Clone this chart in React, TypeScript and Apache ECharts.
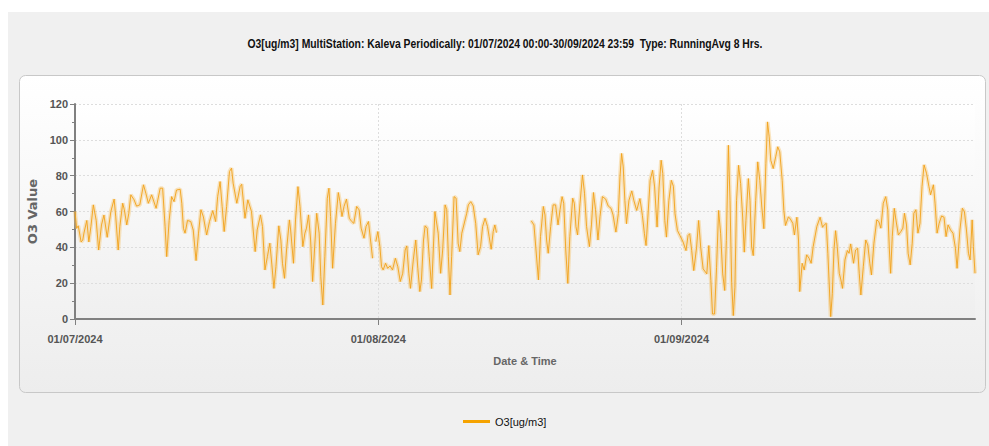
import React, { useEffect, useRef } from "react";
import * as echarts from "echarts";

const TITLE =
  "O3[ug/m3] MultiStation: Kaleva Periodically: 01/07/2024 00:00-30/09/2024 23:59  Type: RunningAvg 8 Hrs.";
const SERIES_NAME = "O3[ug/m3]";
const Y_NAME = "O3 Value";
const X_NAME = "Date & Time";
const TOTAL_HOURS = 2208; // 01/07/2024 00:00 .. 01/10/2024 00:00
const MONTH_TICKS = [0, 744, 1488];
const MONTH_LABELS = ["01/07/2024", "01/08/2024", "01/09/2024"];
const Y_MAX = 120;
const Y_STEP = 20;

// hours since 01/07/2024 00:00, and 8-h running average values (null = gap)
const HOURS = [
  0, 4, 8, 15, 19, 22, 29, 34, 39, 45, 52, 58, 65, 71, 79, 88, 96, 100, 106, 110,
  117, 121, 127, 132, 137, 145, 151, 159, 168, 174, 180, 188, 199, 209, 215, 221, 225, 231, 237, 243,
  249, 258, 262, 266, 270, 276, 284, 290, 297, 303, 309, 315, 323, 330, 338, 345, 350, 356, 361, 366,
  372, 379, 384, 388, 397, 405, 409, 417, 424, 433, 442, 447, 455, 460, 466, 472, 478, 483, 488, 493,
  500, 505, 509, 514, 519, 526, 529, 536, 541, 547, 552, 559, 564, 568, 573, 578, 583, 589, 593, 599,
  603, 608, 613, 619, 623, 627, 632, 639, 646, 650, 655, 660, 666, 673, 679, 684, 691, 697, 702, 709,
  714, 720, 725, 730, 734, 738, 743, 748, 752, 756, 762, 767, 773, 779, 786, 792, 798, 804, 810, 814,
  819, 823, 830, 836, 841, 846, 850, 855, 859, 864, 869, 875, 883, 891, 897, 902, 908, 912, 916, 920,
  924, 930, 935, 940, 944, 949, 954, 961, 965, 971, 977, 983, 989, 995, 1000, 1006, 1012, 1016, 1021, 1026,
  1030, 1034, 1076, 1119, 1126, 1131, 1137, 1142, 1149, 1153, 1157, 1161, 1167, 1173, 1179, 1185, 1190, 1195, 1199, 1204,
  1209, 1214, 1221, 1225, 1229, 1233, 1239, 1245, 1250, 1255, 1262, 1267, 1272, 1277, 1283, 1288, 1294, 1302, 1308, 1315,
  1320, 1327, 1333, 1337, 1341, 1345, 1349, 1353, 1359, 1366, 1371, 1378, 1386, 1392, 1397, 1401, 1407, 1411, 1417, 1422,
  1428, 1433, 1438, 1442, 1447, 1451, 1457, 1463, 1468, 1472, 1478, 1484, 1492, 1499, 1504, 1508, 1513, 1518, 1525, 1530,
  1535, 1541, 1550, 1555, 1560, 1564, 1569, 1574, 1579, 1584, 1589, 1594, 1598, 1603, 1607, 1611, 1615, 1619, 1623, 1628,
  1633, 1638, 1642, 1646, 1652, 1656, 1660, 1664, 1670, 1675, 1680, 1685, 1690, 1695, 1699, 1703, 1707, 1713, 1719, 1724,
  1729, 1735, 1739, 1743, 1750, 1754, 1761, 1765, 1771, 1775, 1778, 1784, 1789, 1795, 1801, 1806, 1811, 1820, 1828, 1834,
  1838, 1843, 1847, 1851, 1854, 1858, 1862, 1866, 1870, 1875, 1879, 1883, 1889, 1895, 1899, 1903, 1910, 1915, 1920, 1924,
  1928, 1934, 1940, 1945, 1950, 1954, 1960, 1967, 1972, 1977, 1983, 1989, 1994, 1998, 2001, 2005, 2010, 2014, 2020, 2026,
  2031, 2035, 2040, 2044, 2049, 2054, 2058, 2063, 2068, 2073, 2078, 2083, 2089, 2095, 2099, 2106, 2110, 2115, 2120, 2126,
  2132, 2137, 2142, 2148, 2154, 2160, 2164, 2171, 2177, 2182, 2187, 2192, 2196, 2201, 2204, 2208,
];

const VALUES: (number | null)[] = [
  60, 50.6, 52, 43, 44, 48, 55, 43, 51.6, 63.7, 55, 38.5, 52.5, 58, 45.6, 60, 66.9, 57, 38.5, 51.6,
  64.6, 61, 52.5, 59, 69.3, 66.5, 63, 63.7, 74.9, 70, 64.6, 69.3, 61.8, 73, 73, 51.6, 34.8, 55, 68.3, 65.5,
  72, 72.4, 64.6, 50.6, 47.9, 55, 54.4, 49.7, 32.6, 47.9, 61, 57, 46.9, 54.4, 60.5, 54.4, 68.3, 76.7, 62.8, 48.8,
  62.8, 82.3, 84.2, 75.8, 64.6, 73.9, 75.2, 56.2, 66.5, 60, 37.6, 49.7, 58.1, 51.6, 27.4, 34.8, 42.3, 30.2, 17.1, 29.2,
  52, 44.1, 31.1, 22.7, 38.5, 55.3, 49.7, 31.1, 55.3, 73.9, 62.8, 40.4, 47.9, 50.7, 58.1, 44.1, 20.9, 44.1, 59, 47.9,
  23.6, 7.8, 34.8, 67.4, 73, 57.2, 28.3, 53.4, 70.6, 65.5, 57.2, 62.8, 66.9, 56.2, 54.4, 53.4, 62.8, 60.9, 50.7, 45.1,
  51.6, 54.4, 44.1, 33.9, null, 43.2, 48.8, 40.4, 29.2, 27.4, 31.1, 28.3, 29.6, 27.4, 33.9, 29.2, 20.9, 25.5, 38.5, 40.8,
  25.5, 17.1, 33, 44.1, 28.3, 15.3, 21.8, 44.1, 52, 50.7, 35, 17, 60, 47.9, 25.5, 38.5, 63.7, 61, 34.8, 13.4,
  34.8, 68.3, 67.4, 42.3, 37.6, 47.9, 52.5, 59, 63.7, 65.5, 63.1, 53.4, 35.8, 40.4, 51.6, 56.2, 51.6, 46, 38.9, 48.8,
  52.5, 48.2, null, 54.9, 52.5, 38.5, 21.8, 46, 62.8, 58.1, 44.1, 36.7, 51.6, 63.7, 63.7, 52.5, 61, 68.3, 64.6, 38.5,
  19.9, 46, 67.4, 64.6, 51.6, 46.9, 64.6, 80.4, 70.2, 51.6, 40.4, 52.5, 70.6, 61, 44.1, 57.2, 68.3, 66.9, 63.1, 61.8,
  58.1, 48.5, 58.8, 79.3, 92.4, 84.9, 66.2, 53.2, 66.2, 71.5, 66.2, 60.6, 67.2, 57.8, 47.6, 41, 62.5, 77.4, 83, 73.7,
  51.3, 73.7, 88.6, 81.2, 55, 45.7, 66.2, 77.4, 74.1, 58.8, 49.4, 46.6, 42.9, 38.2, 46.6, 47.6, 38.2, 27, 40.1, 55,
  40.1, 28, 25.2, 41, 21.5, 2.8, 2.8, 28.9, 60.6, 47.6, 25.2, 15.9, 43.8, 97, 66.2, 20.5, 1.9, 17.7, 66.2, 85.8,
  75.6, 56.9, 37.3, 55, 78.4, 66.2, 40.1, 35.4, 66.2, 87.7, 77.4, 62.5, 50.4, 86.8, 110, 101.7, 88.6, 84, 90.5, 96.1,
  93.3, 77.4, 60.6, 52.2, 56.9, 56.2, 53.4, 46.9, 56.8, 44.1, 15.3, 31.1, 27.4, 35.8, 33.9, 31.1, 40.4, 51.6, 56.8, 51.2,
  52.5, 53.4, 36.7, 16.2, 1.3, 14.3, 38.5, 49.3, 40.4, 25.5, 21.8, 17.1, 33, 38.2, 36.7, 41.9, 31.1, 38.5, 39.5, 25.5,
  13.4, 29.2, 44.1, 41.3, 31.1, 24.6, 42.3, 55.3, 54.4, 50.7, 64.6, 68.3, 60.9, 38.5, 25.5, 46, 61.8, 55.3, 46.9, 48.8,
  50.7, 59, 52.5, 36.7, 30.2, 42.3, 59, 61, 47.9, 53.4, 73.9, 86, 81.4, 73.9, 69.3, 74.9, 64.6, 47.9, 53.4, 57.5,
  56.8, 46, 52.5, 49.7, 47.9, 39.5, 28.3, 49.7, 61.8, 60, 49.7, 36.7, 33, 55.3, 40.4, 25.5,
];

const FONT = "'Liberation Sans',Arial,sans-serif";
const FONT_WIDE = "'DejaVu Sans',Verdana,sans-serif";

export default function App() {
  const ref = useRef<HTMLDivElement>(null);

  useEffect(() => {
    if (!ref.current) return;
    const chart = echarts.init(ref.current, undefined, { renderer: "svg" });
    const data = HOURS.map((h, i) => [h, VALUES[i] === null ? "-" : VALUES[i]]);

    const option: any = {
      animation: false,
      backgroundColor: "#ffffff",
      graphic: [
        {
          type: "rect",
          z: -20,
          silent: true,
          shape: { x: 8, y: 12, width: 981, height: 434 },
          style: { fill: "#f0f0f0" },
        },
        {
          type: "rect",
          z: -19,
          silent: true,
          shape: { x: 19.5, y: 75.5, width: 966, height: 317, r: 6 },
          style: {
            fill: new echarts.graphic.LinearGradient(0, 0, 0, 1, [
              { offset: 0, color: "#ffffff" },
              { offset: 1, color: "#ededed" },
            ]),
            stroke: "#c8c8c8",
            lineWidth: 1,
          },
        },
        {
          type: "text",
          z: 10,
          silent: true,
          x: 505,
          y: 44,
          scaleX: 0.865,
          style: {
            text: TITLE,
            fill: "#111111",
            font: `bold 12px ${FONT}`,
            align: "center",
            verticalAlign: "middle",
          },
        },
      ],
      grid: {
        left: 75,
        right: 14,
        top: 104,
        bottom: 127,
        show: true,
        borderWidth: 0,
        backgroundColor: new echarts.graphic.LinearGradient(0, 0, 0, 1, [
          { offset: 0, color: "#ffffff" },
          { offset: 1, color: "#efefef" },
        ]),
      },
      legend: {
        data: [SERIES_NAME],
        left: 458,
        top: 411,
        icon: "rect",
        itemWidth: 27,
        itemHeight: 3,
        itemGap: 10,
        textStyle: { fontFamily: FONT, fontSize: 11, color: "#111111" },
      },
      xAxis: {
        type: "value",
        min: 0,
        max: TOTAL_HOURS,
        interval: 744,
        name: X_NAME,
        nameLocation: "middle",
        nameGap: 36,
        nameTextStyle: { fontFamily: FONT, fontSize: 11, fontWeight: "bold", color: "#666666" },
        axisLine: { show: true, lineStyle: { color: "#808080", width: 2 } },
        axisTick: {
          show: true,
          length: 6,
          customValues: MONTH_TICKS,
          lineStyle: { color: "#808080", width: 1 },
        },
        axisLabel: {
          customValues: MONTH_TICKS,
          margin: 14,
          fontFamily: FONT,
          fontSize: 11,
          fontWeight: "bold",
          color: "#555555",
          formatter: (v: number) => {
            const i = MONTH_TICKS.indexOf(v);
            return i >= 0 ? MONTH_LABELS[i] : "";
          },
        },
        splitLine: {
          show: true,
          showMinLine: false,
          lineStyle: { color: "#dddddd", type: [2, 2], width: 1 },
        },
      },
      yAxis: {
        type: "value",
        min: 0,
        max: Y_MAX,
        interval: Y_STEP,
        name: Y_NAME,
        nameLocation: "middle",
        nameGap: 28,
        nameRotate: 90,
        nameTextStyle: { fontFamily: FONT_WIDE, fontSize: 13, fontWeight: "bold", color: "#666666" },
        axisLine: { show: true, lineStyle: { color: "#808080", width: 2 } },
        axisTick: { show: true, length: 5, lineStyle: { color: "#808080", width: 1 } },
        minorTick: { show: true, splitNumber: 2, length: 3, lineStyle: { color: "#808080", width: 1 } },
        axisLabel: {
          margin: 7,
          fontFamily: FONT,
          fontSize: 11,
          fontWeight: "bold",
          color: "#555555",
        },
        splitLine: {
          show: true,
          showMinLine: false,
          lineStyle: { color: "#dddddd", type: [2, 2], width: 1 },
        },
      },
      series: [
        {
          name: SERIES_NAME + " halo",
          type: "line",
          data,
          showSymbol: false,
          connectNulls: false,
          silent: true,
          lineStyle: { color: "rgba(244,192,100,0.4)", width: 4 },
          z: 2,
        },
        {
          name: SERIES_NAME,
          type: "line",
          data,
          showSymbol: false,
          connectNulls: false,
          color: "#f5a300",
          lineStyle: { color: "#f2a21a", width: 0.9 },
          z: 3,
        },
      ],
    };

    chart.setOption(option);
    return () => chart.dispose();
  }, []);

  return (
    <div
      ref={ref}
      style={{ position: "fixed", left: 0, top: 0, width: 989, height: 446 }}
    />
  );
}
